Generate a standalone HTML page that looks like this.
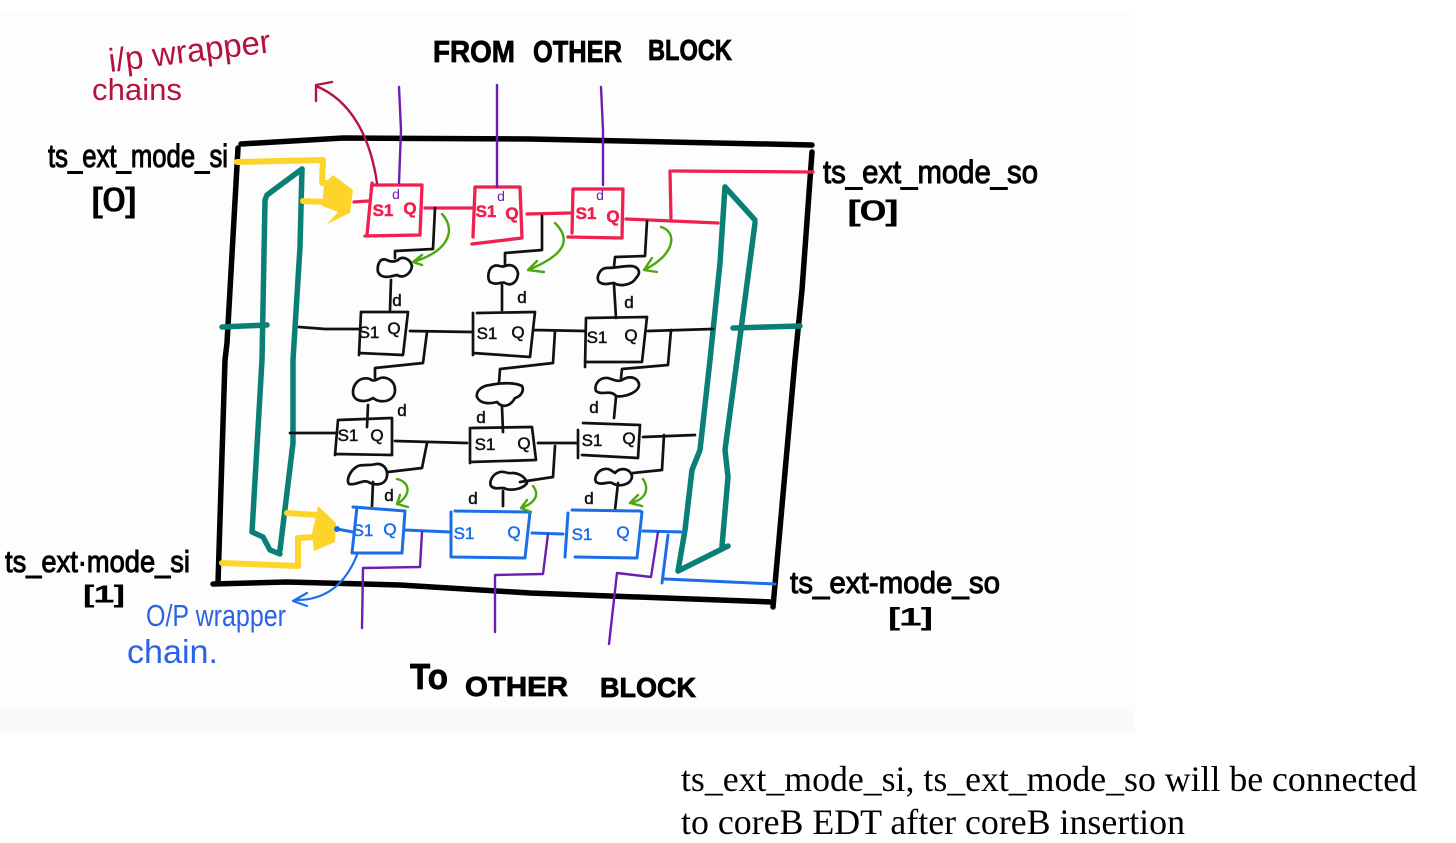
<!DOCTYPE html>
<html><head><meta charset="utf-8"><style>
html,body{margin:0;padding:0;background:#fff;width:1456px;height:843px;overflow:hidden}
svg{display:block}
path{fill:none;stroke-linecap:round;stroke-linejoin:round}
.k{stroke:#000;stroke-width:5.5}
.b{stroke:#111;stroke-width:2.7}
.r{stroke:#f0204f;stroke-width:3.3}
.u{stroke:#1a6fe8;stroke-width:3}
.t{stroke:#0a7f76;stroke-width:5.5}
.y{stroke:#fdd52a;stroke-width:6}
.p{stroke:#6a1fb0;stroke-width:2.4}
.g{stroke:#4ba80e;stroke-width:2.4}
text{font-family:"Liberation Sans",sans-serif}
.h{fill:#000;stroke:#000;stroke-width:1}
.c{font-weight:bold;fill:#000;stroke:#000;stroke-width:.8}
.s{font-size:17px;text-anchor:middle;fill:#111;stroke:#111;stroke-width:.5}
.sr{fill:#f0204f;stroke:#f0204f;font-weight:bold}
.su{fill:#1a6fe8;stroke:#1a6fe8}
</style></head><body>
<svg width="1456" height="843" viewBox="0 0 1456 843" xmlns="http://www.w3.org/2000/svg">
<rect x="0" y="12" width="1135" height="721" fill="#fdfdfd"/>
<rect x="0" y="706" width="1135" height="27" fill="#fbf9fb"/>

<!-- outer box -->
<path class="k" d="M241 144 L343 138 L530 139 L812 145"/>
<path class="k" d="M238 148 L227 343 L225 360 L218 583"/>
<path class="k" d="M213 584 L287 582 L400 585 L530 593 L772 602"/>
<path class="k" d="M812 152 L802 290 L795 360 L773 607"/>

<!-- teal muxes -->
<path class="t" d="M302 169 L267 195 L265 200 L262 360 L252 532 L263 537 L270 550 L280 554"/>
<path class="t" d="M302 169 L300 247 L293 360 L293 443 L280 550"/>
<path class="t" d="M222 327 L267 325"/>
<path class="t" d="M725 187 L720 263 L710 360 L700 450 L692 470 L685 530 L678 571 L728 546"/>
<path class="t" d="M725 187 L755 220"/>
<path class="t" d="M755 223 L737 360 L725 450 L728 477 L722 546"/>
<path class="t" d="M733 328 L800 326"/>

<!-- yellow -->
<path class="y" d="M237 162 L323 160 L322 183 L335 183"/>
<path class="y" d="M303 201 L325 202"/>
<polygon points="333,175 353,190 350,213 327,224 338,212 322,206 324,184" fill="#fdd52a"/>
<path class="y" d="M222 563 L298 566 L298 538 L315 537"/>
<path class="y" d="M287 513 L318 515"/>
<polygon points="318,506 336,523 335,542 314,551 312,534 316,515" fill="#fdd52a"/>

<!-- red -->
<path class="r" d="M354 202 L368 201 M372 183 L367 235 M373 185 L422 185 L420 235 L365 236 M425 208 L472 208"/>
<path class="r" d="M475 188 L473 237 M475 187 L520 187 L522 238 L472 244 M527 214 L570 213"/>
<path class="r" d="M573 189 L572 233 M573 189 L623 189 L622 238 L568 237 M626 219 L718 223 M670 171 L671 220 M673 171 L813 172"/>

<!-- purple top -->
<path class="p" d="M399 87 L401 130 L399 183 M497 85 L497 187 M601 87 L603 130 L603 185"/>

<!-- black wiring top -->
<path class="b" d="M435 208 L433 249 L395 251 L395 258 M391 280 L390 310"/>
<path class="b" d="M542 216 L542 250 L505 253 L505 265 M502 285 L502 310"/>
<path class="b" d="M647 221 L645 256 L615 257 L614 267 M614 285 L616 318"/>
<!-- top clouds -->
<path class="b" d="M387 260 C379 257 377 266 378 272 C382 280 392 276 397 275 C403 279 411 274 412 266 C410 258 402 256 398 260 C395 262 390 262 387 260Z"/>
<path class="b" d="M494 266 C488 268 487 278 490 282 C497 286 502 281 505 283 C512 287 518 281 518 273 C516 265 510 264 505 266 C501 268 498 264 494 266Z"/>
<path class="b" d="M606 268 C599 269 596 278 599 282 C605 286 610 283 614 283 C620 287 632 285 636 278 C642 272 638 266 630 266 C622 266 617 268 606 268"/>

<!-- row 2 FFs -->
<path class="b" d="M299 327 L325 329 L360 329 M361 312 L359 355 M361 312 L408 312 L403 355 L359 353 M410 331 L472 332"/>
<path class="b" d="M427 332 L423 363 L375 368 L375 378 M368 405 L367 427"/>
<path class="b" d="M473 313 L473 355 M477 313 L535 312 L530 357 L473 353 M534 330 L585 331"/>
<path class="b" d="M555 331 L553 363 L500 369 L499 383 M502 407 L503 432"/>
<path class="b" d="M586 318 L585 367 M586 318 L647 317 L642 362 L585 362 M648 331 L713 329"/>
<path class="b" d="M671 330 L668 365 L622 369 L621 378 M616 397 L614 418"/>
<path class="b" d="M370 379 C360 376 353 384 353 392 C353 402 365 403 373 398 C380 404 395 402 395 390 C395 380 385 375 378 379 C375 381 372 381 370 379Z"/>
<path class="b" d="M490 385 C480 386 476 392 477 397 C480 404 490 404 497 402 C502 408 510 407 515 398 C522 396 524 390 522 386 C514 382 500 383 490 385Z"/>
<path class="b" d="M608 378 C598 377 594 386 596 391 C602 396 610 389 616 396 C624 398 640 392 639 384 C637 376 628 376 622 380 C618 382 614 380 608 378Z"/>

<!-- row 3 FFs -->
<path class="b" d="M290 433 L337 433 M338 420 L335 455 M338 420 L392 418 L392 455 L335 454 M395 441 L467 443"/>
<path class="b" d="M427 443 L422 468 L388 472 M373 482 L372 506"/>
<path class="b" d="M470 428 L470 463 M472 428 L532 427 L536 460 L470 462 M538 443 L577 443"/>
<path class="b" d="M555 446 L553 477 L520 482 M503 491 L503 506"/>
<path class="b" d="M578 430 L578 458 M583 423 L640 425 L638 458 L582 455 M643 437 L695 435"/>
<path class="b" d="M664 435 L662 470 L633 473 M618 483 L615 510"/>
<path class="b" d="M358 466 C350 470 346 480 349 484 C356 486 364 478 370 483 C378 486 386 484 387 476 C388 468 382 463 376 464 C370 466 364 464 358 466"/>
<path class="b" d="M500 472 C492 474 489 482 491 486 C496 491 502 486 506 489 C514 491 524 488 527 483 C525 476 518 473 512 473 C508 474 504 471 500 472Z"/>
<path class="b" d="M605 469 C597 470 594 478 596 482 C602 486 608 481 612 483 C620 488 632 484 632 476 C630 468 620 467 615 473 C612 471 609 468 605 469Z"/>

<!-- blue FFs -->
<circle cx="337" cy="529" r="3" fill="#1a6fe8"/>
<path class="u" d="M337 529 L353 532 M357 507 L352 553 M353 507 L405 511 L402 553 L352 553 M405 530 L450 532"/>
<path class="u" d="M451 512 L451 557 M455 511 L530 512 L525 558 L452 557 M532 533 L563 534"/>
<path class="u" d="M568 513 L565 557 M572 510 L640 511 L642 512 L637 558 L575 557 M643 531 L683 532"/>
<path class="u" d="M668 535 L662 583 M665 579 L775 584"/>
<path class="u" style="stroke-width:2.2" d="M357 555 C345 585 325 600 297 600 M307 593 L293 601 L307 606"/>

<!-- purple bottom -->
<path class="p" d="M422 532 L420 567 L363 568 L362 628"/>
<path class="p" d="M548 534 L543 574 L495 575 L495 632"/>
<path class="p" d="M658 532 L651 577 L617 573 L609 644"/>

<!-- green arrows -->
<path class="g" d="M442 214 C455 228 452 250 413 262 M422 255 L413 262 L422 265"/>
<path class="g" d="M555 223 C572 240 565 255 528 270 M537 261 L528 270 L544 272"/>
<path class="g" d="M661 227 C678 232 675 255 644 270 M652 258 L644 270 L657 272"/>
<path class="g" d="M397 479 C410 482 412 495 397 504 M400 495 L397 504 L408 507"/>
<path class="g" d="M533 486 C540 495 535 503 521 508 M527 500 L521 508 L531 512"/>
<path class="g" d="M643 479 C650 490 645 500 630 503 M638 495 L630 503 L642 506"/>

<!-- red curved arrow -->
<path d="M377 183 C370 135 350 100 316 86 M316 101 L316 85 L332 82" stroke="#b5123f" stroke-width="2.4"/>

<!-- FF labels -->
<g class="s">
<text class="sr" x="383" y="216">S1</text><text class="sr" x="410" y="214">Q</text>
<text class="sr" x="486" y="217">S1</text><text class="sr" x="512" y="219">Q</text>
<text class="sr" x="586" y="219">S1</text><text class="sr" x="613" y="222">Q</text>
<text x="369" y="338">S1</text><text x="394" y="334">Q</text>
<text x="487" y="339">S1</text><text x="518" y="338">Q</text>
<text x="597" y="343">S1</text><text x="631" y="341">Q</text>
<text x="348" y="441">S1</text><text x="377" y="441">Q</text>
<text x="485" y="450">S1</text><text x="524" y="449">Q</text>
<text x="592" y="446">S1</text><text x="629" y="444">Q</text>
<text class="su" x="363" y="536">S1</text><text class="su" x="390" y="535">Q</text>
<text class="su" x="464" y="539">S1</text><text class="su" x="514" y="538">Q</text>
<text class="su" x="582" y="540">S1</text><text class="su" x="623" y="538">Q</text>
<text x="397" y="306">d</text><text x="522" y="303">d</text><text x="629" y="308">d</text>
<text x="402" y="416">d</text><text x="481" y="423">d</text><text x="594" y="413">d</text>
<text x="389" y="501">d</text><text x="473" y="504">d</text><text x="589" y="504">d</text>
<text x="396" y="199" style="fill:#6a1fb0;stroke:none;font-size:14px">d</text>
<text x="501" y="201" style="fill:#6a1fb0;stroke:none;font-size:14px">d</text>
<text x="600" y="200" style="fill:#6a1fb0;stroke:none;font-size:14px">d</text>
</g>

<!-- hand labels -->
<text class="h" x="48" y="167" font-size="32" textLength="180" lengthAdjust="spacingAndGlyphs">ts_ext_mode_si</text>
<text class="h" x="91" y="211" font-size="33" textLength="46" lengthAdjust="spacingAndGlyphs">[0]</text>
<text class="h" x="823" y="183" font-size="32" textLength="215" lengthAdjust="spacingAndGlyphs">ts_ext_mode_so</text>
<text class="h" x="847" y="220" font-size="28" textLength="52" lengthAdjust="spacingAndGlyphs">[0]</text>
<text class="h" x="5" y="572" font-size="31" textLength="185" lengthAdjust="spacingAndGlyphs">ts_ext·mode_si</text>
<text class="h" x="83" y="602" font-size="23" textLength="42" lengthAdjust="spacingAndGlyphs">[1]</text>
<text class="h" x="790" y="593" font-size="31" textLength="210" lengthAdjust="spacingAndGlyphs">ts_ext-mode_so</text>
<text class="h" x="888" y="625" font-size="24" textLength="45" lengthAdjust="spacingAndGlyphs">[1]</text>

<text transform="translate(110 72) rotate(-7)" font-size="33" fill="#b5123f" textLength="163" lengthAdjust="spacingAndGlyphs">i/p wrapper</text>
<text x="92" y="100" font-size="31" fill="#b5123f" textLength="90" lengthAdjust="spacingAndGlyphs">chains</text>
<text x="146" y="626" font-size="31" fill="#2b63e6" textLength="140" lengthAdjust="spacingAndGlyphs">O/P wrapper</text>
<text x="127" y="663" font-size="33" fill="#2b63e6" textLength="91" lengthAdjust="spacingAndGlyphs">chain.</text>

<text class="c" x="433" y="62" font-size="31" textLength="82" lengthAdjust="spacingAndGlyphs">FROM</text>
<text class="c" x="533" y="62" font-size="31" textLength="89" lengthAdjust="spacingAndGlyphs">OTHER</text>
<text class="c" x="648" y="60" font-size="29" textLength="84" lengthAdjust="spacingAndGlyphs">BLOCK</text>
<text class="c" x="410" y="689" font-size="36" textLength="38" lengthAdjust="spacingAndGlyphs">To</text>
<text class="c" x="465" y="696" font-size="28" textLength="103" lengthAdjust="spacingAndGlyphs">OTHER</text>
<text class="c" x="600" y="697" font-size="28" textLength="96" lengthAdjust="spacingAndGlyphs">BLOCK</text>

<!-- caption -->
<text x="681" y="791" font-size="36" fill="#000" style="font-family:'Liberation Serif',serif" textLength="736" lengthAdjust="spacingAndGlyphs">ts_ext_mode_si, ts_ext_mode_so will be connected</text>
<text x="681" y="834" font-size="36" fill="#000" style="font-family:'Liberation Serif',serif" textLength="504" lengthAdjust="spacingAndGlyphs">to coreB EDT after coreB insertion</text>
</svg>
</body></html>
